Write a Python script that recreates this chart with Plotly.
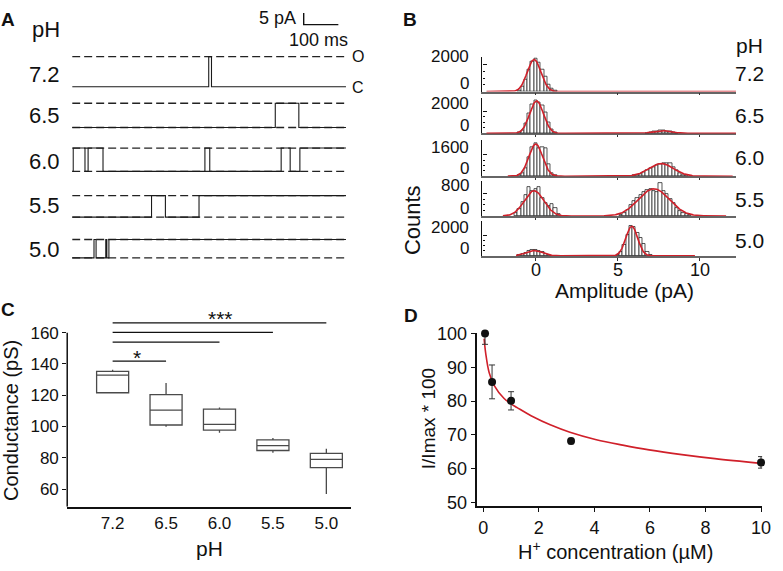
import plotly.graph_objects as go
import numpy as np

W, H = 783, 571
FONT = "Liberation Sans, Arial, sans-serif"
BLACK = "#111111"
RED = "#d0202a"

# ---------------- Panel A: single-channel traces ----------------
PH_LABELS = ["7.2", "6.5", "6.0", "5.5", "5.0"]
TRACE_START_MS = [0, 0, 0, 0, -8]
TRACE_END_MS = 790
OPEN_INTERVALS_MS = [
    [(394, 402)],
    [(586, 654)],
    [(3, 37), (46, 89), (383, 397), (603, 629), (657, 790)],
    [(229, 269), (366, 790)],
    [(63, 69), (97, 100), (106, 790)],
]
OPEN_AMPLITUDE_PA = [12.9, 10.4, 10.0, 9.2, 7.9]
SCALE_MS = 100
SCALE_PA = 5

# ---------------- Panel B: amplitude histograms ----------------
BIN_WIDTH = 0.2
CLOSED_BIN_START = [-1.0, -1.0, -1.0, -1.2, -1.0]
CLOSED_COUNTS = [
    [100, 350, 900, 1600, 2200, 2430, 2100, 1600, 1100, 550, 220, 60],
    [80, 300, 900, 1800, 2600, 2960, 2800, 2500, 1900, 1000, 350, 80],
    [60, 200, 600, 1400, 2200, 2470, 2100, 2200, 2100, 900, 250, 50],
    [100, 250, 500, 750, 1040, 900, 950, 1040, 650, 450, 350, 420, 300, 80],
    [60, 150, 300, 450, 540, 570, 480, 350, 200, 100, 40],
]
OPEN_BIN_START = [None, 6.8, 6.0, 5.2, 5.0]
OPEN_COUNTS = [
    [],
    [40, 90, 160, 220, 260, 250, 210, 150, 80, 40],
    [40, 90, 170, 280, 420, 560, 700, 820, 900, 950, 950, 950, 650, 420, 230, 100, 40],
    [50, 120, 230, 380, 520, 650, 760, 860, 930, 960, 900, 850, 1183, 900, 800, 620,
     450, 300, 190, 110, 60, 30],
    [100, 400, 1100, 2100, 2950, 2800, 2300, 1800, 1200, 400, 100],
]
# Gaussian fit parameters per pH: (mean pA, sd pA, peak counts)
FIT_PARAMS = [
    [(-0.1, 0.42, 2360)],
    [(0.05, 0.42, 2900), (7.7, 0.55, 250)],
    [(0.0, 0.42, 2400), (7.65, 0.75, 945)],
    [(-0.1, 0.6, 904), (7.2, 0.95, 974)],
    [(-0.1, 0.5, 520), (5.85, 0.36, 2900)],
]
FIT_RANGE = [(-3.0, 12.2), (-3.0, 12.2), (-1.7, 12.0), (-2.0, 11.6), (-1.2, 9.7)]
B_TICK_TOP = [2000, 2000, 1600, 800, 2000]
B_TICK_LABELS = ["2000", "2000", "1600", "800", "2000"]
B_AMP_TICKS = [0, 5, 10]
B_AMP_TICK_LABELS = ["0", "5", "10"]

# ---------------- Panel C: conductance box plots ----------------
C_CATS = ["7.2", "6.5", "6.0", "5.5", "5.0"]
C_Q1 = [121.6, 101.0, 97.7, 84.7, 73.8]
C_MEDIAN = [132.8, 110.5, 101.4, 87.8, 79.0]
C_Q3 = [135.3, 120.4, 111.1, 91.5, 82.9]
C_LOW = [121.6, 99.8, 96.1, 83.3, 56.9]
C_HIGH = [136.3, 127.8, 112.2, 92.6, 85.8]
SIG_BARS = [(0, 1, 141.8), (0, 2, 154.0), (0, 3, 160.2), (0, 4, 166.2)]
C_YTICKS = [60, 80, 100, 120, 140, 160]

# ---------------- Panel D: relative current vs [H+] ----------------
D_X = [0.063, 0.316, 1.0, 3.16, 10.0]
D_Y = [100.0, 85.7, 80.1, 68.2, 61.9]
D_ERR = [3.2, 5.0, 2.7, 0.8, 1.7]
FIT_X = [0.03, 0.09, 0.21, 0.39, 0.75, 1.0, 1.22, 1.81, 2.41, 3.12, 4.07, 5.02, 5.97, 7.15, 8.34, 10.0]
FIT_Y = [98.5, 94.0, 88.5, 84.7, 80.8, 79.2, 78.1, 75.3, 73.0, 70.8, 68.6, 67.0, 65.6, 64.2, 63.0, 61.6]

# ---------------- layout helpers (pixel positions) ----------------
def fx(px):
    return px / W

def fy(py):
    return 1 - py / H

def ydom(top, bottom):
    return [fy(bottom), fy(top)]

fig = go.Figure()

# ---- Panel A ----
ROW_BASE_PA = [79.2, 61.7, 42.9, 23.3, 5.8]   # vertical offsets of the rows
A_YMAX = 112.5
DASH = "8px,4px"

def step_trace(t0, t1, intervals, amp):
    xs, ys = [t0], [0.0]
    level = 0.0
    for a, b in intervals:
        xs += [a, a]
        ys += [0.0, amp]
        if b >= t1:
            level = amp
            break
        xs += [b, b]
        ys += [amp, 0.0]
    xs.append(t1)
    ys.append(level)
    return xs, ys

for i in range(5):
    base = ROW_BASE_PA[i]
    amp = OPEN_AMPLITUDE_PA[i]
    levels = [base + amp] if i == 0 else [base + amp, base]
    for lv in levels:
        fig.add_trace(go.Scatter(x=[0, TRACE_END_MS], y=[lv, lv], mode="lines",
                                 line=dict(color="#222", width=1.3, dash=DASH),
                                 xaxis="x", yaxis="y", showlegend=False, hoverinfo="skip"))
    xs, ys = step_trace(TRACE_START_MS[i], TRACE_END_MS, OPEN_INTERVALS_MS[i], amp)
    fig.add_trace(go.Scatter(x=xs, y=[v + base for v in ys], mode="lines",
                             line=dict(color="#1a1a1a", width=1.1),
                             xaxis="x", yaxis="y", showlegend=False, hoverinfo="skip"))

SB_T0, SB_Y0 = 668, 105.8
fig.add_trace(go.Scatter(x=[SB_T0, SB_T0, SB_T0 + SCALE_MS],
                         y=[SB_Y0 + SCALE_PA, SB_Y0, SB_Y0], mode="lines",
                         line=dict(color="#111", width=1.4),
                         xaxis="x", yaxis="y", showlegend=False, hoverinfo="skip"))

# ---- Panel B ----
B_ROWS_PX = [(49, 85), (92, 128), (135, 172), (177, 213), (218, 254)]
B_PX_PER_TICK = [28, 23, 22, 23, 21]
B_LABEL_SHIFT = 8

for i in range(5):
    ax = str(2 + i)
    xc = [CLOSED_BIN_START[i] + BIN_WIDTH * k for k in range(len(CLOSED_COUNTS[i]))]
    yc = list(CLOSED_COUNTS[i])
    if OPEN_BIN_START[i] is not None:
        xc += [OPEN_BIN_START[i] + BIN_WIDTH * k for k in range(len(OPEN_COUNTS[i]))]
        yc += list(OPEN_COUNTS[i])
    fig.add_trace(go.Bar(x=xc, y=yc, width=BIN_WIDTH,
                         marker=dict(color="white", line=dict(color="#2a2a2a", width=0.8)),
                         xaxis="x" + ax, yaxis="y" + ax, showlegend=False, hoverinfo="skip"))
    a, b = FIT_RANGE[i]
    gx = np.linspace(a, b, 400)
    gy = np.zeros_like(gx)
    for m, s, A in FIT_PARAMS[i]:
        gy += A * np.exp(-0.5 * ((gx - m) / s) ** 2)
    fig.add_trace(go.Scatter(x=gx, y=gy, mode="lines", line=dict(color=RED, width=1.6),
                             xaxis="x" + ax, yaxis="y" + ax, showlegend=False, hoverinfo="skip"))

# ---- Panel C ----
for k in range(5):
    fig.add_trace(go.Box(x=[k], q1=[C_Q1[k]], median=[C_MEDIAN[k]], q3=[C_Q3[k]],
                         lowerfence=[C_LOW[k]], upperfence=[C_HIGH[k]],
                         width=0.6, whiskerwidth=0, boxpoints=False,
                         fillcolor="white", line=dict(color="#4a4a4a", width=1.3),
                         xaxis="x7", yaxis="y7", showlegend=False, hoverinfo="skip"))
for a, b, yv in SIG_BARS:
    fig.add_trace(go.Scatter(x=[a, b], y=[yv, yv], mode="lines",
                             line=dict(color="#111", width=1.3),
                             xaxis="x7", yaxis="y7", showlegend=False, hoverinfo="skip"))

# ---- Panel D ----
fig.add_trace(go.Scatter(x=FIT_X, y=FIT_Y, mode="lines", line=dict(color=RED, width=1.6, shape="spline"),
                         xaxis="x8", yaxis="y8", showlegend=False, hoverinfo="skip", cliponaxis=False))
fig.add_trace(go.Scatter(x=D_X, y=D_Y, mode="markers",
                         marker=dict(color="#111", size=8),
                         error_y=dict(type="data", array=D_ERR, color="#333", thickness=1, width=3),
                         xaxis="x8", yaxis="y8", showlegend=False, hoverinfo="skip", cliponaxis=False))

# ---------------- axes ----------------
layout = dict(
    width=W, height=H, margin=dict(l=0, r=0, t=0, b=0),
    paper_bgcolor="white", plot_bgcolor="white",
    font=dict(family=FONT, color=BLACK, size=17),
    showlegend=False, bargap=0,
)
layout["xaxis"] = dict(domain=[fx(73), fx(350)], range=[0, TRACE_END_MS], visible=False,
                       anchor="y")
layout["yaxis"] = dict(domain=ydom(0, 270), range=[0, A_YMAX], visible=False, anchor="x")

B_X0, B_X1, B_XR = 488, 745, (-3.25, 12.23)
ann = []

def txt(text, px, py, size, bold=False, angle=0, xanchor="center", yanchor="middle"):
    ann.append(dict(text="<b>%s</b>" % text if bold else text, x=fx(px), y=fy(py),
                    xref="paper", yref="paper", showarrow=False, textangle=angle,
                    xanchor=xanchor, yanchor=yanchor, font=dict(size=size, family=FONT, color=BLACK)))

for i in range(5):
    n = 2 + i
    top_px, bot_px = B_ROWS_PX[i]
    T = B_TICK_TOP[i]
    ymax = T * (bot_px - top_px) / B_PX_PER_TICK[i]
    last = i == 4
    layout["xaxis%d" % n] = dict(
        domain=[fx(B_X0), fx(B_X1)], range=list(B_XR), anchor="y%d" % n,
        showline=True, linecolor="#666", linewidth=1.5, layer="below traces",
        tickvals=B_AMP_TICKS, ticks="outside", ticklen=3 if last else 2, tickcolor="#333",
        showticklabels=False, showgrid=False, zeroline=False,
    )
    layout["yaxis%d" % n] = dict(
        domain=ydom(top_px, bot_px), range=[0, ymax], anchor="x%d" % n,
        showline=True, linecolor="#111", linewidth=1.3,
        tickmode="array", tickvals=[0, T],
        ticks="inside", ticklen=4, tickcolor="#111",
        minor=dict(ticks="inside", ticklen=2, tickmode="array",
                   tickvals=[T * 0.25, T * 0.5, T * 0.75], tickcolor="#111"),
        showticklabels=False, showgrid=False, zeroline=False,
    )
    tick_px = bot_px - B_PX_PER_TICK[i]
    txt("0", 476, bot_px - B_LABEL_SHIFT, 17, xanchor="right")
    txt(B_TICK_LABELS[i], 476, tick_px - B_LABEL_SHIFT, 17, xanchor="right")

for v, lab in zip(B_AMP_TICKS, B_AMP_TICK_LABELS):
    px = B_X0 + (v - B_XR[0]) / (B_XR[1] - B_XR[0]) * (B_X1 - B_X0)
    txt(lab, px, 269, 18)

C_Y0, C_Y1 = 48.8, 180.5
layout["xaxis7"] = dict(domain=[fx(68), fx(355)], range=[-0.85, 4.46], anchor="y7",
                        tickmode="array", tickvals=list(range(5)), ticktext=C_CATS,
                        showline=True, linecolor="#111", linewidth=1.5, ticks="",
                        tickfont=dict(size=17), showgrid=False, zeroline=False)
layout["yaxis7"] = dict(domain=ydom(300, 512), range=[C_Y0, C_Y1], anchor="x7",
                        tickvals=C_YTICKS, ticks="outside", ticklen=4, tickcolor="#111",
                        showline=False, tickfont=dict(size=17), showgrid=False, zeroline=False)

layout["xaxis8"] = dict(domain=[fx(483), fx(771)], range=[-0.21, 10.04], anchor="y8",
                        dtick=2, tick0=0, ticks="outside", ticklen=5, tickcolor="#111",
                        showline=True, linecolor="#111", linewidth=1.5,
                        tickfont=dict(size=18), showgrid=False, zeroline=False)
layout["yaxis8"] = dict(domain=ydom(333, 511), range=[49.1, 100.25], anchor="x8",
                        dtick=10, tick0=50, ticks="outside", ticklen=5, tickcolor="#111",
                        showline=True, linecolor="#111", linewidth=1.5,
                        tickfont=dict(size=18), showgrid=False, zeroline=False)

layout["shapes"] = [dict(type="line", xref="x7 domain", yref="y7", x0=0, x1=0,
                         y0=C_Y0, y1=160, line=dict(color="#111", width=1.5))]

# panel letters
txt("A", 8, 11, 19, bold=True)
txt("B", 415, 11, 19, bold=True)
txt("C", 8, 309, 19, bold=True)
txt("D", 416, 315, 19, bold=True)

# Panel A texts
txt("pH", 47, 21, 22)
A_LABEL_Y = [67, 110, 157, 202, 247]
for lab, py in zip(PH_LABELS, A_LABEL_Y):
    txt(lab, 45, py, 22)
txt("5 pA", 301, 9, 18, xanchor="right")
txt("100 ms", 322, 32, 18)
txt("O", 362, 49, 16)
txt("C", 362, 81, 16)

# Panel B texts
txt("pH", 758, 38, 21)
B_LABEL_Y = [66, 110, 153, 196, 238]
for lab, py in zip(PH_LABELS, B_LABEL_Y):
    txt(lab, 758, py, 21)
txt("Counts", 418, 217, 22, angle=-90)
txt("Amplitude (pA)", 632, 290, 21)

# Panel C texts
txt("Conductance (pS)", 11, 423, 20, angle=-90)
txt("pH", 212, 555, 21)
ann.append(dict(text="*", x=0.46, y=143.9, xref="x7", yref="y7", showarrow=False,
                font=dict(size=21, family=FONT, color=BLACK)))
ann.append(dict(text="***", x=2.02, y=169.3, xref="x7", yref="y7", showarrow=False,
                font=dict(size=21, family=FONT, color=BLACK)))

# Panel D texts
txt("I/Imax * 100", 433, 422, 19, angle=-90)
txt("H<sup>+</sup> concentration (µM)", 623, 557, 20)

layout["annotations"] = ann
fig.update_layout(**layout)
fig.write_html("out.html", config={"displayModeBar": False},
               post_script="document.body.style.margin='0';document.body.style.overflow='hidden';")
